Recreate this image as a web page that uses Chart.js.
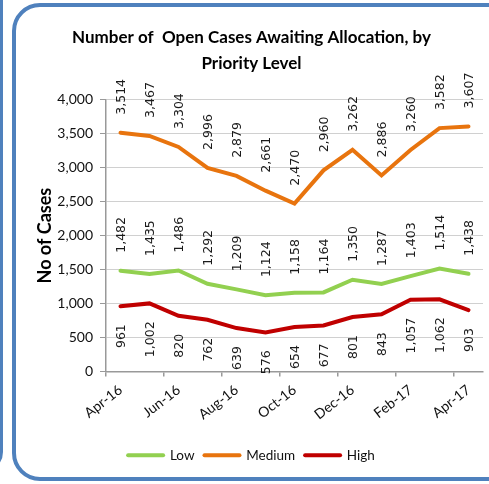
<!DOCTYPE html>
<html>
<head>
<meta charset="utf-8">
<script src="https://cdn.jsdelivr.net/npm/chart.js@4"></script>
<style>
  html, body { margin: 0; padding: 0; background: #fff; width: 489px; height: 484px; overflow: hidden; }
  .frame { position: absolute; box-sizing: border-box; border: 4px solid #4f81bd; }
  #mainFrame { left: 12px; top: 3px; width: 520px; height: 478px; border-radius: 28px; }
  #leftFrame { left: -60px; top: -20px; width: 63px; height: 492px; border-radius: 20px; border-width: 3px; }
  #wrap { position: absolute; left: 0; top: 0; width: 489px; height: 484px; }
</style>
</head>
<body>
<div class="frame" id="leftFrame"></div>
<div class="frame" id="mainFrame"></div>
<div id="wrap"><canvas id="c" width="489" height="484"></canvas></div>
<script>
const months = ['Apr-16','May-16','Jun-16','Jul-16','Aug-16','Sep-16','Oct-16','Nov-16','Dec-16','Jan-17','Feb-17','Mar-17','Apr-17'];
const lowValues = [1482,1435,1486,1292,1209,1124,1158,1164,1350,1287,1403,1514,1438];
const mediumValues = [3514,3467,3304,2996,2879,2661,2470,2960,3262,2886,3260,3582,3607];
const highValues = [961,1002,820,762,639,576,654,677,801,843,1057,1062,903];
const yMin = 0, yMax = 4000, yStep = 500;

const labelPlugin = {
  id: 'valueLabels',
  afterDatasetsDraw(chart) {
    const ctx = chart.ctx;
    ctx.save();
    ctx.font = '12.5px "DejaVu Sans"';
    ctx.fillStyle = '#1a1a1a';
    ctx.textBaseline = 'middle';
    chart.data.datasets.forEach((ds, di) => {
      const meta = chart.getDatasetMeta(di);
      const below = di === 2;
      meta.data.forEach((pt, i) => {
        const txt = ds.data[i].toLocaleString('en-US');
        ctx.save();
        if (below) {
          ctx.translate(pt.x + 1, pt.y + 18);
          ctx.rotate(-Math.PI / 2);
          ctx.textAlign = 'right';
        } else {
          ctx.translate(pt.x + 1, pt.y - 18);
          ctx.rotate(-Math.PI / 2);
          ctx.textAlign = 'left';
        }
        ctx.fillText(txt, 0, 0);
        ctx.restore();
      });
    });
    ctx.restore();
  }
};

new Chart(document.getElementById('c'), {
  type: 'line',
  data: {
    labels: months,
    datasets: [
      { label: 'Low', data: lowValues, borderColor: '#92d050', backgroundColor: '#92d050' },
      { label: 'Medium', data: mediumValues, borderColor: '#e8740e', backgroundColor: '#e8740e' },
      { label: 'High', data: highValues, borderColor: '#c00000', backgroundColor: '#c00000' }
    ]
  },
  options: {
    responsive: false,
    animation: false,
    devicePixelRatio: 1,
    elements: {
      line: { borderWidth: 4, tension: 0, borderCapStyle: 'round', borderJoinStyle: 'miter' },
      point: { radius: 0, hoverRadius: 0 }
    },
    layout: { padding: { left: 20, right: 6, top: 0, bottom: 12 } },
    plugins: {
      title: {
        display: true,
        text: ['Number of  Open Cases Awaiting Allocation, by', 'Priority Level'],
        color: '#000',
        font: { family: 'Lato', size: 17, weight: 'bold', lineHeight: 1.55 },
        padding: { top: 24, bottom: 23 }
      },
      legend: {
        position: 'bottom',
        labels: {
          usePointStyle: true,
          pointStyleWidth: 35,
          color: '#111',
          font: { family: 'Lato', size: 13.5 },
          padding: 10,
          generateLabels(chart) {
            return chart.data.datasets.map((ds, i) => ({
              text: ds.label,
              fillStyle: ds.borderColor,
              strokeStyle: ds.borderColor,
              lineWidth: 4,
              lineCap: 'round',
              pointStyle: 'line',
              fontColor: '#111',
              hidden: false,
              datasetIndex: i
            }));
          }
        }
      },
      tooltip: { enabled: false }
    },
    scales: {
      x: {
        offset: true,
        afterFit(scale) { scale.height = 67; },
        border: { display: true, color: '#999', width: 1.5 },
        grid: {
          offset: true,
          drawOnChartArea: false,
          drawTicks: true,
          tickLength: 5,
          color: (c) => (c.index % 2 === 0 ? '#999' : 'rgba(0,0,0,0)'),
          lineWidth: 1.5
        },
        ticks: {
          autoSkip: false,
          minRotation: 38,
          maxRotation: 38,
          padding: 5,
          color: '#111',
          font: { family: 'Lato', size: 14 },
          callback(v, i) { return i % 2 === 0 ? months[i] : ''; }
        }
      },
      y: {
        min: yMin,
        max: yMax,
        afterFit(scale) { scale.width = 86; },
        border: { display: true, color: '#999', width: 1.5 },
        grid: {
          color: '#d0d0d0',
          borderDash: [4, 3],
          tickColor: '#999',
          tickBorderDash: [],
          tickLength: 6,
          lineWidth: 1
        },
        ticks: {
          stepSize: yStep,
          padding: 7,
          color: '#111',
          font: { family: 'Lato', size: 14 },
          callback(v) { return v.toLocaleString('en-US'); }
        },
        title: {
          display: true,
          text: 'No of Cases',
          color: '#000',
          font: { family: 'Lato', size: 18, weight: 'bold' },
          padding: { top: 14, bottom: 0 }
        }
      }
    }
  },
  plugins: [labelPlugin]
});
</script>
</body>
</html>
